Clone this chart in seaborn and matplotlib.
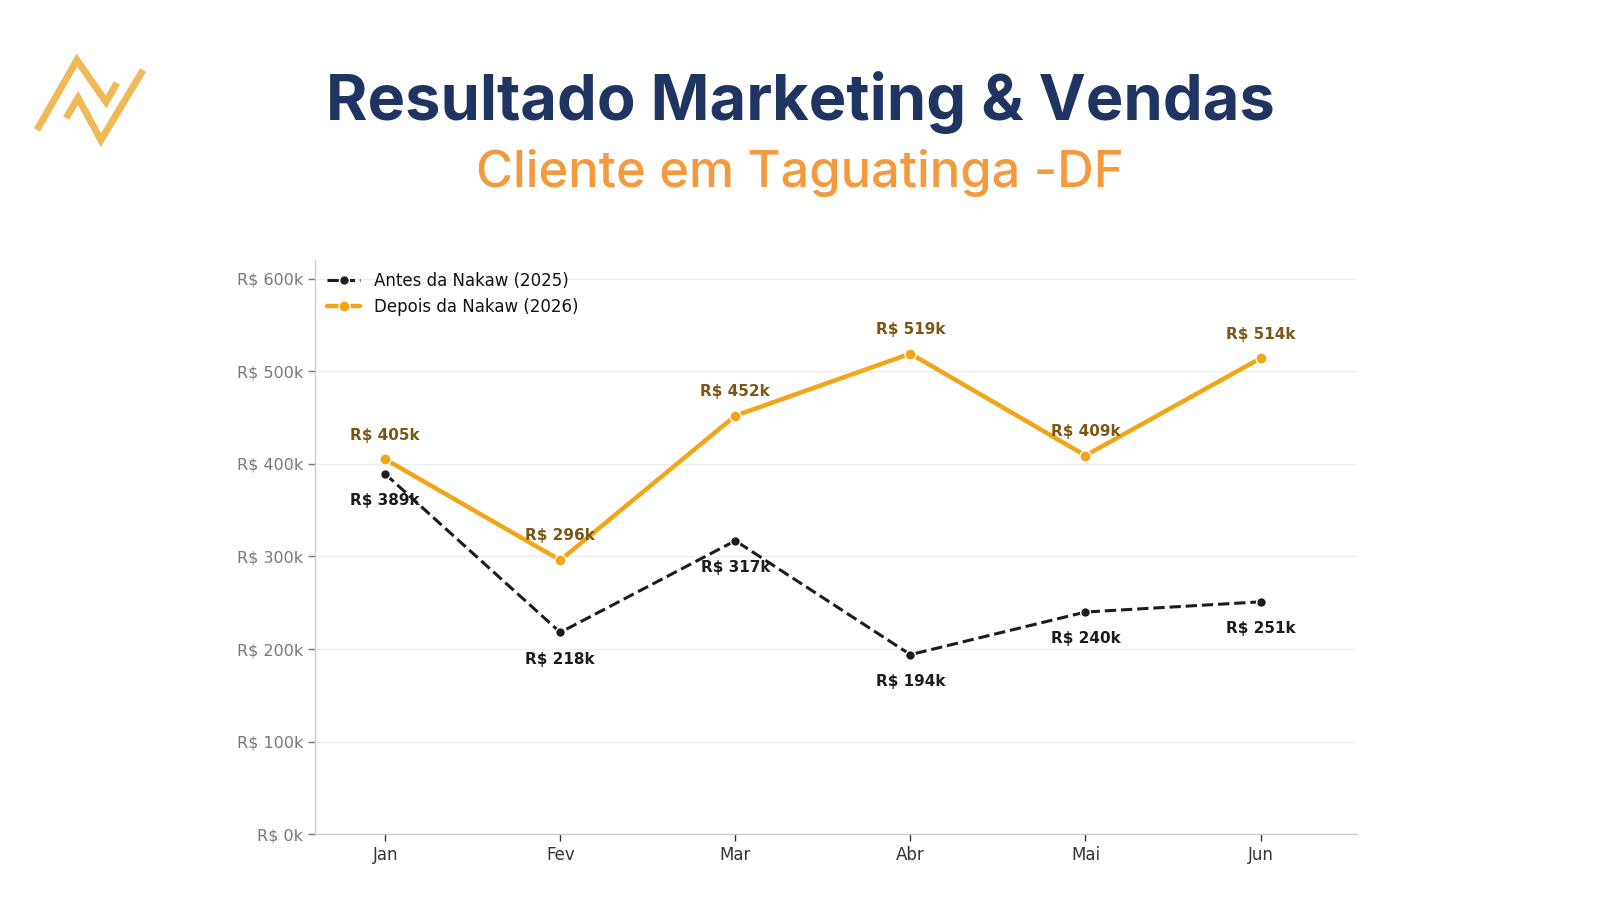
import matplotlib
matplotlib.use("Agg")
import matplotlib.pyplot as plt
import seaborn as sns
import pandas as pd
from matplotlib.lines import Line2D

# dados
meses = ["Jan", "Fev", "Mar", "Abr", "Mai", "Jun"]
antes = [389, 218, 317, 194, 240, 251]
depois = [405, 296, 452, 519, 409, 514]

df = pd.DataFrame({"mes": meses, "antes": antes, "depois": depois})
df["x"] = range(len(meses))

sns.set_theme(style="white")
plt.rcParams["font.family"] = ["DejaVu Sans"]

fig = plt.figure(figsize=(16, 9), dpi=100)
fig.patch.set_facecolor("white")
ax = fig.add_axes([0.197, 0.073, 0.651, 0.638])

preto = "#1c1c1c"
laranja = "#f2a516"

sns.lineplot(data=df, x="x", y="antes", ax=ax, color=preto, lw=2.2,
             linestyle="--", marker="o", markersize=7, markeredgecolor="white",
             markeredgewidth=1, label="Antes da Nakaw (2025)")
sns.lineplot(data=df, x="x", y="depois", ax=ax, color=laranja, lw=3.2,
             marker="o", markersize=8, markeredgecolor="white",
             markeredgewidth=1, label="Depois da Nakaw (2026)")

for i, v in enumerate(antes):
    ax.annotate(f"R$ {v}k", (i, v), xytext=(0, -14), textcoords="offset points",
                ha="center", va="top", fontsize=11, fontweight="bold", color=preto)
for i, v in enumerate(depois):
    ax.annotate(f"R$ {v}k", (i, v), xytext=(0, 12), textcoords="offset points",
                ha="center", va="bottom", fontsize=11, fontweight="bold", color="#7a5714")

ax.set_xlim(-0.4, 5.55)
ax.set_ylim(0, 620)
ax.set_yticks(range(0, 601, 100))
ax.set_yticklabels([f"R$ {t}k" for t in range(0, 601, 100)])
ax.set_xticks(df["x"])
ax.set_xticklabels(meses)
ax.set_xlabel("")
ax.set_ylabel("")
ax.grid(axis="y", color="#eeeef2", lw=1)
ax.tick_params(axis="y", colors="#777777", labelsize=11.5, length=5, width=1, left=True)
ax.tick_params(axis="x", colors="#333333", labelsize=12, length=5, width=1, bottom=True)
for lbl in ax.get_yticklabels():
    lbl.set_color("#777777")
for s in ["top", "right"]:
    ax.spines[s].set_visible(False)
for s in ["left", "bottom"]:
    ax.spines[s].set_color("#cccccc")
    ax.spines[s].set_linewidth(1)

leg = ax.legend(loc="upper left", frameon=False, fontsize=12, handlelength=2,
                borderaxespad=0.3, bbox_to_anchor=(0, 1.0))
for t in leg.get_texts():
    t.set_color("#111111")

fig.text(0.5, 0.886, "Resultado Marketing & Vendas", ha="center", va="center",
         fontsize=45.5, fontweight="bold", color="#1f3461", family=["Inter", "DejaVu Sans"])
fig.text(0.5, 0.808, "Cliente em Taguatinga -DF", ha="center", va="center",
         fontsize=36.5, fontweight="medium", color="#f59a3c", family=["Inter", "DejaVu Sans"])

# logo
ouro = "#f0b955"
logo = Line2D([0.0231, 0.0481, 0.0663, 0.0731],
              [0.8556, 0.9333, 0.8867, 0.9078],
              transform=fig.transFigure, color=ouro, lw=5, solid_joinstyle="miter",
              solid_capstyle="butt")
logo2 = Line2D([0.0413, 0.0488, 0.0631, 0.0894],
               [0.8689, 0.8911, 0.8444, 0.9222],
               transform=fig.transFigure, color=ouro, lw=5, solid_joinstyle="miter",
               solid_capstyle="butt")
fig.add_artist(logo)
fig.add_artist(logo2)

fig.savefig("out.png", dpi=100, facecolor="white")
